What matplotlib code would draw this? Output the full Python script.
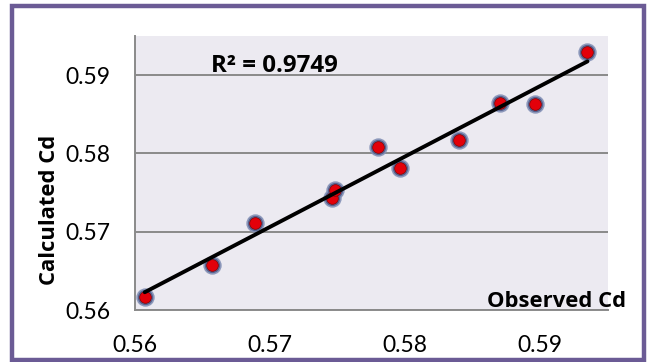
import matplotlib
matplotlib.use("Agg")
import matplotlib.pyplot as plt
from matplotlib.patches import Rectangle
import numpy as np

plt.rcParams['font.family'] = ['Lato', 'DejaVu Sans']

# observed vs calculated discharge coefficient
observed = [0.5607, 0.5657, 0.5689, 0.5746, 0.5748, 0.5780, 0.5796, 0.5840, 0.5870, 0.5896, 0.5935]
calculated = [0.5617, 0.5658, 0.5711, 0.5743, 0.5753, 0.5808, 0.5781, 0.5817, 0.5865, 0.5863, 0.5930]
r2_label = "R² = 0.9749"
ticks = [0.56, 0.57, 0.58, 0.59]

bold_font = dict(family=['Open Sans', 'DejaVu Sans'], fontweight='bold')

fig = plt.figure(figsize=(6.51, 3.62), dpi=100)
fig.patch.set_facecolor('white')
ax = fig.add_axes([0.2078, 0.1436, 0.7257, 0.757])
ax.set_facecolor('#ECEAF1')

ax.set_xlim(0.56, 0.595)
ax.set_ylim(0.56, 0.595)
ax.set_xticks(ticks)
ax.set_yticks(ticks)
ax.set_xticklabels([f"{t:.2f}" for t in ticks])
ax.set_yticklabels([f"{t:.2f}" for t in ticks])
ax.tick_params(length=0, labelsize=16.5, colors='black')
ax.tick_params(axis='y', pad=18)
ax.tick_params(axis='x', pad=18)

for s in ['top', 'right']:
    ax.spines[s].set_visible(False)
for s in ['left', 'bottom']:
    ax.spines[s].set_color('#8a8a8a')
    ax.spines[s].set_linewidth(1.4)
ax.grid(axis='y', color='#8a8a8a', linewidth=1.4)
ax.set_axisbelow(True)

# points: bluish halo with red core
ax.scatter(observed, calculated, s=175, color='#8390b6', alpha=0.9, zorder=3, linewidths=0)
ax.scatter(observed, calculated, s=120, color='#56628f', zorder=3, linewidths=0)
ax.scatter(observed, calculated, s=70, color='#e3000a', edgecolors='#8c0000', linewidths=0.5, zorder=4)

# linear trendline
coef = np.polyfit(observed, calculated, 1)
xs = np.array([min(observed), max(observed)])
ax.plot(xs, np.polyval(coef, xs), color='black', linewidth=2.8, zorder=5, solid_capstyle='round')

ax.text(0.5656, 0.5904, r2_label, fontsize=17.4, ha='left', va='baseline', **bold_font)

fig.text(0.9616, 0.1533, "Observed Cd", fontsize=15.8, ha='right', va='baseline', **bold_font)
fig.text(0.0768, 0.42, "Calculated Cd", fontsize=15.8, rotation=90, ha='center', va='center', **bold_font)

# purple frame
fig.patches.append(Rectangle((0.0192, 0.0055), 0.9708, 0.9779, transform=fig.transFigure,
                             fill=False, edgecolor='#6b5b95', linewidth=3.2))

fig.savefig('out.png', dpi=100)
